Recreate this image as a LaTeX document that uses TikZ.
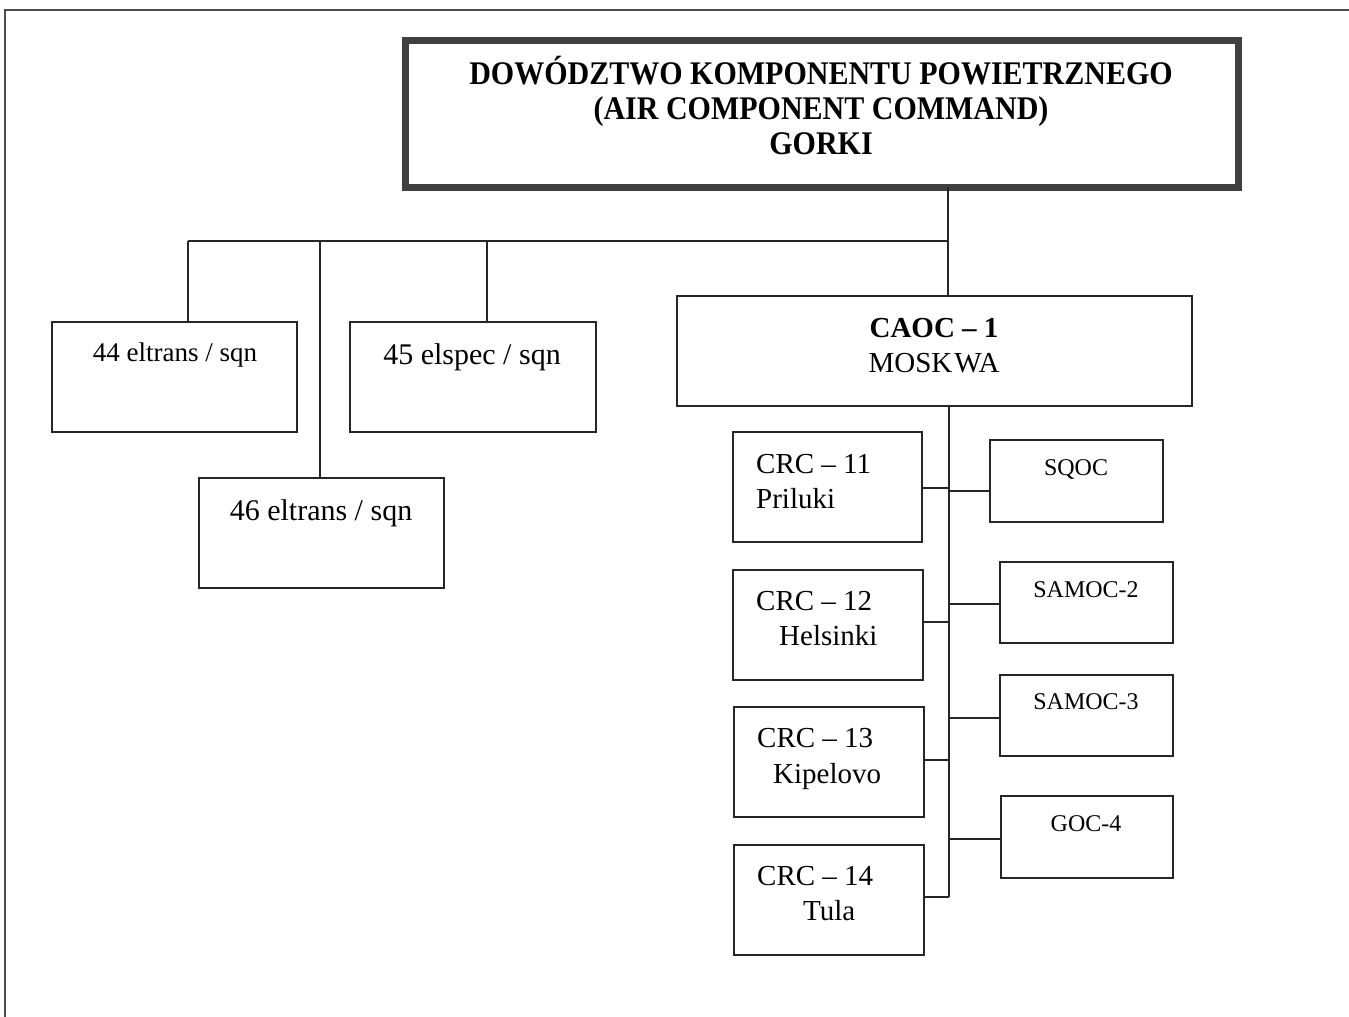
\documentclass[tikz,border=0pt]{standalone}
\usepackage{fontspec}
\setmainfont{Liberation Serif}
\tikzset{
  box/.style={draw=black!85, line width=2.1pt, rectangle, inner sep=0pt, outer sep=0pt},
  topbox/.style={draw=black!75, line width=7pt, rectangle, inner sep=0pt, outer sep=0pt},
  conn/.style={draw=black!85, line width=2pt},
  frame/.style={draw=black!70, line width=2pt},
  lbl/.style={inner sep=0pt, anchor=base},
  lblw/.style={inner sep=0pt, anchor=base west},
  ttl/.style={lbl, font=\fontsize{30}{34}\selectfont\bfseries},
}
\newcommand\orgbox[6][box]{%
  \node[#1, minimum width={(#4-#2)*1pt}, minimum height={(#5-#3)*1pt}] (#6) at ({(#2+#4)/2},{(#3+#5)/2}) {};}
\newcommand\tall[1]{\scalebox{1}[1.1]{#1}}
\begin{document}
\begin{tikzpicture}[x=1pt,y=-1pt]
\useasboundingbox (0,0) rectangle (1349,1017);
\fill[white] (0,0) rectangle (1349,1017);
% outer frame (top and left edges)
\draw[frame] (1349,10) -- (5,10) -- (5,1017);

% top box
\orgbox[topbox]{405}{40}{1238}{187}{top}
\node[ttl] (t1) at (821,84) {\tall{DOWÓDZTWO KOMPONENTU POWIETRZNEGO}};
\node[ttl] (t2) at (821,119) {\tall{(AIR COMPONENT COMMAND)}};
\node[ttl] (t3) at (821,154) {\tall{GORKI}};

% squadrons
\orgbox{52}{322}{297}{432}{b44}
\node[lbl, font=\fontsize{27}{30}\selectfont] (l44) at (175,361) {44 eltrans / sqn};
\orgbox{350}{322}{596}{432}{b45}
\node[lbl, font=\fontsize{30}{33}\selectfont] (l45) at (472,364) {45 elspec / sqn};
\orgbox{199}{478}{444}{588}{b46}
\node[lbl, font=\fontsize{30}{33}\selectfont] (l46) at (321,520) {46 eltrans / sqn};

% CAOC
\orgbox{677}{296}{1192}{406}{caoc}
\node[lbl, font=\fontsize{29}{32}\selectfont\bfseries] (c1) at (934,337) {CAOC -- 1};
\node[lbl, font=\fontsize{29}{32}\selectfont] (c2) at (934,372) {MOSK\kern2ptWA};

% CRC boxes
\orgbox{733}{432}{922}{542}{crc11}
\node[lblw, font=\fontsize{29}{32}\selectfont] (r11a) at (756,473) {CRC -- 11};
\node[lblw, font=\fontsize{29}{32}\selectfont] (r11b) at (756,508) {Priluki};
\orgbox{733}{570}{923}{680}{crc12}
\node[lblw, font=\fontsize{29}{32}\selectfont] (r12a) at (756,610) {CRC -- 12};
\node[lblw, font=\fontsize{29}{32}\selectfont] (r12b) at (779,645) {Helsinki};
\orgbox{734}{707}{924}{817}{crc13}
\node[lblw, font=\fontsize{29}{32}\selectfont] (r13a) at (757,747) {CRC -- 13};
\node[lblw, font=\fontsize{29}{32}\selectfont] (r13b) at (773,783) {Kipelovo};
\orgbox{734}{845}{924}{955}{crc14}
\node[lblw, font=\fontsize{29}{32}\selectfont] (r14a) at (757,885) {CRC -- 14};
\node[lblw, font=\fontsize{29}{32}\selectfont] (r14b) at (803,920) {Tula};

% right boxes
\orgbox{990}{440}{1163}{522}{sqoc}
\node[lbl, font=\fontsize{24}{27}\selectfont] (q1) at (1076,475) {SQOC};
\orgbox{1000}{562}{1173}{643}{sam2}
\node[lbl, font=\fontsize{24}{27}\selectfont] (q2) at (1086,597) {SAMOC-2};
\orgbox{1000}{675}{1173}{756}{sam3}
\node[lbl, font=\fontsize{24}{27}\selectfont] (q3) at (1086,709) {SAMOC-3};
\orgbox{1001}{796}{1173}{878}{goc}
\node[lbl, font=\fontsize{24}{27}\selectfont] (q4) at (1086,831) {GOC-4};

% connectors: top level bus
\coordinate (j0) at (948,241);
\coordinate (k44) at (188,241);
\coordinate (k46) at (320,241);
\coordinate (k45) at (487,241);
\draw[conn] (top.south -| j0) -- (j0 |- caoc.north);
\draw[conn] (k44) -- (j0);
\draw[conn] (k44) -- (k44 |- b44.north);
\draw[conn] (k46) -- (k46 |- b46.north);
\draw[conn] (k45) -- (k45 |- b45.north);

% CAOC spine
\coordinate (sp) at (949,897);
\draw[conn] (sp |- caoc.south) -- (sp);
\coordinate (e11) at (949,488);
\coordinate (e12) at (949,622);
\coordinate (e13) at (949,760);
\coordinate (e14) at (949,897);
\draw[conn] (crc11.east |- e11) -- (e11);
\draw[conn] (crc12.east |- e12) -- (e12);
\draw[conn] (crc13.east |- e13) -- (e13);
\draw[conn] (crc14.east |- e14) -- (e14);
\coordinate (w1) at (949,491);
\coordinate (w2) at (949,604);
\coordinate (w3) at (949,718);
\coordinate (w4) at (949,839);
\draw[conn] (w1) -- (w1 -| sqoc.west);
\draw[conn] (w2) -- (w2 -| sam2.west);
\draw[conn] (w3) -- (w3 -| sam3.west);
\draw[conn] (w4) -- (w4 -| goc.west);
\end{tikzpicture}
\end{document}
